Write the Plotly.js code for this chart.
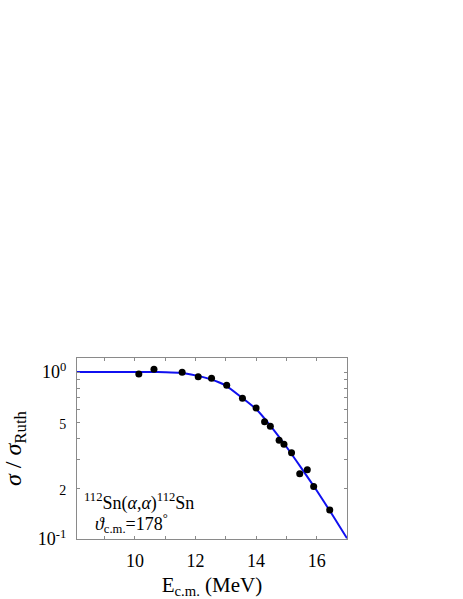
<!DOCTYPE html>
<html>
<head>
<meta charset="utf-8">
<script src="https://cdn.plot.ly/plotly-3.0.1.min.js"></script>
<style>html,body{margin:0;padding:0;background:#fff;}#chart{width:463px;height:599px;}</style>
</head>
<body>
<div id="chart"></div>
<script>
// Measured data points: E_c.m. (MeV) and sigma/sigma_Ruth
const dataE = [10.13, 10.63, 11.56, 12.09, 12.53, 13.03, 13.55, 14.00, 14.28, 14.47, 14.76, 14.92, 15.17, 15.44, 15.69, 15.90, 16.43];
const dataRatio = [0.973, 1.038, 0.996, 0.937, 0.917, 0.832, 0.696, 0.609, 0.504, 0.473, 0.390, 0.369, 0.329, 0.246, 0.260, 0.206, 0.149];

// Model curve
const curveE = [8, 9, 10, 10.5, 11, 11.5, 12, 12.5, 13, 13.5, 14, 14.5, 15, 15.5, 16, 16.5, 17];
const curveRatio = [1.0, 1.0, 1.0, 1.0, 0.998, 0.99, 0.955, 0.905, 0.83, 0.71, 0.60, 0.47, 0.357, 0.265, 0.195, 0.141, 0.101];

// Tick definitions
const xTickVals = [10, 12, 14, 16];
const xTickText = ['10', '12', '14', '16'];
const xMinorVals = [9, 11, 13, 15, 17];
const yTickVals = [0.1, 0.2, 0.5, 1.0];
const yTickText = ['10<sup>-1</sup>', '<span style="font-size:14px">2</span>', '<span style="font-size:14px">5</span>', '10<sup>0</sup>'];
const yMinorVals = [0.3, 0.4, 0.6, 0.7, 0.8, 0.9];

const serif = "'Liberation Serif', 'Times New Roman', serif";

const traces = [
  {
    x: curveE, y: curveRatio, type: 'scatter', mode: 'lines',
    line: {color: '#1010f0', width: 2, shape: 'spline', smoothing: 0.6},
    hoverinfo: 'skip'
  },
  {
    x: dataE, y: dataRatio, type: 'scatter', mode: 'markers',
    marker: {color: '#000', size: 7}, cliponaxis: false
  }
];

const axisCommon = {
  showgrid: false, zeroline: false,
  showline: true, linecolor: '#8a8a8a', linewidth: 1.2, mirror: 'ticks',
  ticks: 'inside', ticklen: 3, tickcolor: '#8a8a8a', tickwidth: 1,
  tickfont: {family: serif, size: 18, color: '#000'}
};

const layout = {
  width: 463, height: 599,
  margin: {l: 77, r: 116, t: 358, b: 60},
  paper_bgcolor: '#fff', plot_bgcolor: '#fff',
  showlegend: false,
  xaxis: Object.assign({}, axisCommon, {
    range: [8.09, 17.0],
    tickmode: 'array', tickvals: xTickVals, ticktext: xTickText,
    minor: {tickmode: 'array', tickvals: xMinorVals, ticks: 'inside', ticklen: 3, tickcolor: '#8a8a8a', showgrid: false},
    ticklabelstandoff: 5,
    title: {text: 'E<sub>c.m.</sub> (MeV)', font: {family: serif, size: 21, color: '#000'}, standoff: 8}
  }),
  yaxis: Object.assign({}, axisCommon, {
    type: 'log', range: [-1, 0.084],
    tickmode: 'array', tickvals: yTickVals, ticktext: yTickText,
    minor: {tickmode: 'array', tickvals: yMinorVals, ticks: 'inside', ticklen: 3, tickcolor: '#8a8a8a', showgrid: false},
    ticklabelstandoff: 6,
    title: {text: '<i>σ</i> / <i>σ</i><sub>Ruth</sub>', font: {family: serif, size: 24, color: '#000'}, standoff: 12}
  }),
  annotations: [
    {xref: 'paper', yref: 'paper', x: 0.018, y: 0.205, xanchor: 'left', yanchor: 'middle', showarrow: false,
     text: '<sup>112</sup>Sn(<i>α</i>,<i>α</i>)<sup>112</sup>Sn', font: {family: serif, size: 18, color: '#000'}},
    {xref: 'paper', yref: 'paper', x: 0.06, y: 0.085, xanchor: 'left', yanchor: 'middle', showarrow: false,
     text: '<i>ϑ</i><sub>c.m.</sub>=178<sup>°</sup>', font: {family: serif, size: 18, color: '#000'}}
  ]
};

Plotly.newPlot('chart', traces, layout, {displayModeBar: false, staticPlot: true});
</script>
</body>
</html>
